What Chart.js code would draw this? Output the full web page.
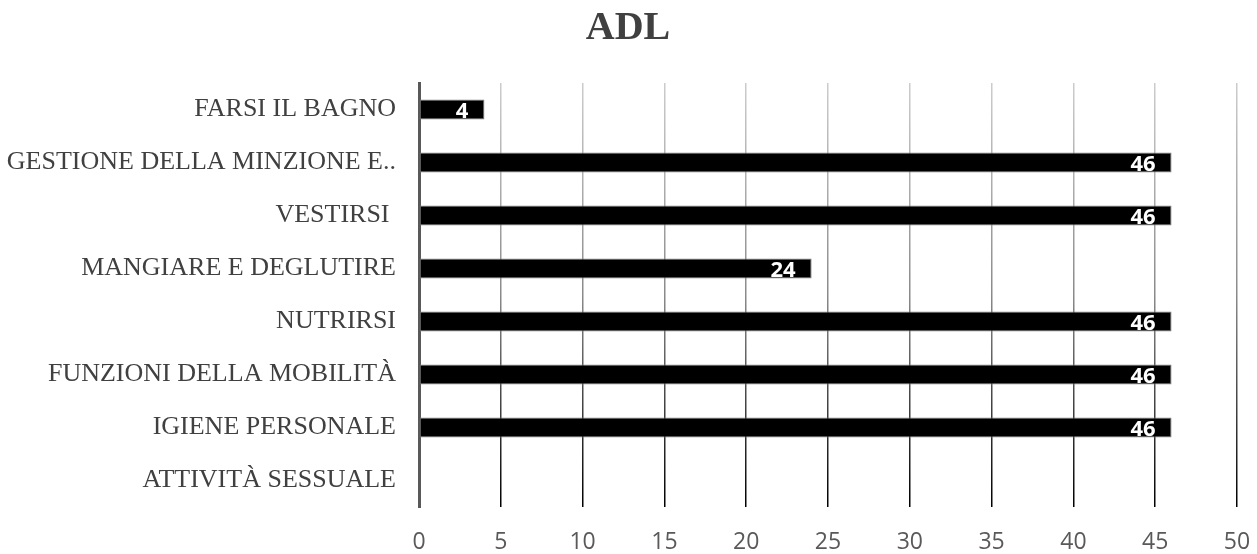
<!DOCTYPE html>
<html>
<head>
<meta charset="utf-8">
<script src="https://cdn.jsdelivr.net/npm/chart.js@4/dist/chart.umd.min.js"></script>
<style>
  html, body { margin: 0; padding: 0; background: #fff; }
  #wrap { width: 1257px; height: 554px; }
</style>
</head>
<body>
<div id="wrap"><canvas id="adlChart"></canvas></div>
<script>
// dati
const categorie = [
  'FARSI IL BAGNO',
  'GESTIONE DELLA MINZIONE E..',
  'VESTIRSI ',
  'MANGIARE E DEGLUTIRE',
  'NUTRIRSI',
  'FUNZIONI DELLA MOBILITÀ',
  'IGIENE PERSONALE',
  'ATTIVITÀ SESSUALE'
];
const valori = [4, 46, 46, 24, 46, 46, 46, 0];
const tickX = [0, 5, 10, 15, 20, 25, 30, 35, 40, 45, 50];

// etichette bianche dentro la barra (niente plugin esterni)
const etichette = {
  id: 'etichette',
  afterDatasetsDraw(chart) {
    const ctx = chart.ctx;
    const meta = chart.getDatasetMeta(0);
    ctx.save();
    ctx.font = 'bold 22px "Open Sans"';
    ctx.fillStyle = '#ffffff';
    ctx.textAlign = 'right';
    ctx.textBaseline = 'middle';
    meta.data.forEach((bar, i) => {
      const v = valori[i];
      if (!v) return;
      ctx.fillText(String(v), bar.x - 16, bar.y + 2);
    });
    ctx.restore();
  }
};

const gridGradiente = (c) => {
  const area = c.chart.chartArea;
  if (!area) return '#888';
  const g = c.chart.ctx.createLinearGradient(0, area.top, 0, area.bottom);
  g.addColorStop(0, '#cccccc');
  g.addColorStop(0.5, '#8a8a8a');
  g.addColorStop(1, '#000000');
  return g;
};

const ctx = document.getElementById('adlChart').getContext('2d');
const grafico = new Chart(ctx, {
  type: 'bar',
  data: {
    labels: categorie,
    datasets: [{
      data: valori,
      backgroundColor: '#000000',
      borderColor: '#7f7f7f',
      borderWidth: 1,
      borderSkipped: false,
      barPercentage: 0.38,
      categoryPercentage: 1
    }]
  },
  options: {
    indexAxis: 'y',
    responsive: true,
    maintainAspectRatio: false,
    animation: false,
    layout: { padding: { top: 0, right: 1, bottom: 0, left: 0 } },
    plugins: {
      legend: { display: false },
      tooltip: { enabled: false },
      title: {
        display: true,
        text: 'ADL',
        color: '#404040',
        font: { family: '"Liberation Serif"', size: 40, weight: 'bold' },
        padding: { top: 5, bottom: 30 }
      }
    },
    scales: {
      x: {
        min: 0,
        max: 50,
        afterBuildTicks: (s) => { s.ticks = tickX.map(v => ({ value: v })); },
        afterFit: (s) => { s.paddingRight = 20; s.height = 47; },
        grid: { color: gridGradiente, lineWidth: 1.5, drawTicks: false },
        border: { display: false },
        ticks: {
          color: '#595959',
          font: { family: '"Open Sans"', size: 23 },
          padding: 22
        }
      },
      y: {
        afterFit: (s) => { s.width = 419; s.paddingBottom = 0; },
        grid: { display: false },
        border: { display: true, color: '#595959', width: 3 },
        ticks: {
          color: '#404040',
          font: { family: '"Liberation Serif"', size: 26 },
          padding: 15
        }
      }
    }
  },
  plugins: [etichette]
});
</script>
</body>
</html>
